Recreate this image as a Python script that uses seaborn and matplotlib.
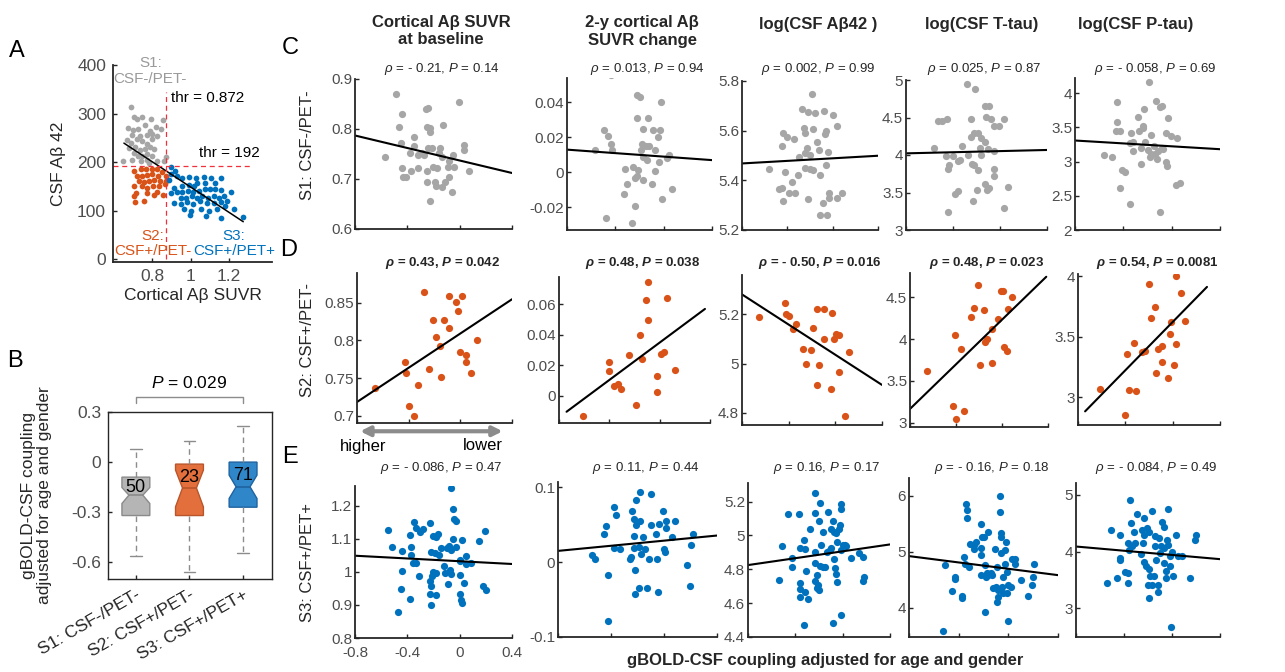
import numpy as np
import seaborn as sns
import matplotlib.pyplot as plt

# ---------------- data: panel A ----------------
a_s1_x = [0.687, 0.704, 0.722, 0.748, 0.795, 0.856, 0.673, 0.70, 0.725, 0.76, 0.786, 0.817, 0.843,
          0.696, 0.736, 0.77, 0.80, 0.666, 0.69, 0.718, 0.748, 0.774, 0.80, 0.826, 0.678, 0.708,
          0.736, 0.76, 0.788, 0.704, 0.725, 0.748, 0.774, 0.80, 0.649, 0.696, 0.739, 0.77, 0.826,
          0.87, 0.86, 0.81, 0.783]
a_s1_y = [313, 293, 289, 292, 289, 286, 270, 267, 269, 277, 265, 272, 269, 256, 254, 256, 258,
          246, 239, 248, 243, 238, 248, 254, 229, 231, 224, 226, 231, 219, 212, 213, 217, 213,
          203, 204, 202, 205, 202, 211, 202, 226, 198]
a_s2_x = [0.704, 0.739, 0.765, 0.80, 0.826, 0.852, 0.722, 0.748, 0.774, 0.80, 0.83, 0.87, 0.731,
          0.757, 0.783, 0.809, 0.838, 0.873, 0.704, 0.748, 0.774, 0.805, 0.835, 0.864, 0.713,
          0.77, 0.826, 0.704, 0.757, 0.809, 0.857, 0.708]
a_s2_y = [181, 185, 186, 186, 185, 179, 172, 171, 174, 176, 171, 171, 161, 159, 161, 164, 161,
          161, 150, 150, 147, 150, 150, 154, 137, 137, 138, 130, 120, 133, 133, 118]
a_s3_x = [0.899, 0.896, 0.92, 0.93, 0.957, 0.991, 1.026, 1.07, 1.104, 1.16, 1.13, 1.073, 1.035,
          0.991, 0.957, 0.913, 0.896, 0.927, 0.957, 0.986, 1.014, 1.043, 1.073, 1.10, 1.13,
          1.157, 1.209, 0.948, 0.974, 1.009, 1.035, 1.061, 1.09, 1.122, 1.148, 1.174, 0.913,
          0.948, 0.983, 1.014, 1.049, 1.087, 1.122, 1.157, 1.191, 0.965, 1.0, 1.052, 1.096,
          1.139, 1.178, 0.997, 1.078, 1.16, 1.275, 1.226, 1.017, 0.887]
a_s3_y = [190, 176, 181, 171, 168, 170, 168, 170, 168, 168, 157, 157, 156, 152, 150, 147, 137,
          138, 138, 140, 138, 140, 145, 144, 145, 142, 138, 126, 126, 130, 126, 130, 126, 130,
          126, 130, 116, 113, 118, 113, 120, 115, 116, 118, 120, 103, 99, 103, 99, 103, 109,
          90, 89, 85, 87, 103, 150, 164]
a_fit = [(0.652, 239), (1.275, 77)]
thr_suvr, thr_csf = 0.872, 192

# ---------------- data: panel B (box statistics) ----------------
groups = ['S1: CSF-/PET-', 'S2: CSF+/PET-', 'S3: CSF+/PET+']
group_n = [50, 23, 71]
box_med = [-0.198, -0.155, -0.148]
box_q1 = [-0.32, -0.32, -0.27]
box_q3 = [-0.09, -0.012, 0.0]
box_lo = [-0.56, -0.66, -0.545]
box_hi = [0.078, 0.125, 0.215]
box_cilo = [-0.248, -0.268, -0.218]
box_cihi = [-0.152, -0.048, -0.078]

# ---------------- data: panels C-E ----------------
c1_x = [-0.49, -0.44, -0.46, -0.45, -0.57, -0.44, -0.43, -0.41, -0.37, -0.35, -0.35, -0.38, -0.32,
        -0.29, -0.27, -0.26, -0.245, -0.25, -0.23, -0.225, -0.24, -0.21, -0.20, -0.17, -0.15,
        -0.13, -0.25, -0.25, -0.19, -0.18, -0.135, -0.115, -0.23, -0.135, -0.09, -0.08, -0.055,
        -0.05, -0.04, -0.005, 0.03, 0.03, 0.07, -0.08, -0.16, -0.32]
c1_y = [0.871, 0.83, 0.804, 0.772, 0.745, 0.722, 0.705, 0.705, 0.716, 0.784, 0.767, 0.753, 0.722,
        0.752, 0.748, 0.84, 0.843, 0.804, 0.802, 0.795, 0.763, 0.762, 0.725, 0.722, 0.762, 0.808,
        0.717, 0.695, 0.694, 0.687, 0.685, 0.695, 0.657, 0.745, 0.724, 0.704, 0.675, 0.748,
        0.725, 0.854, 0.768, 0.758, 0.717, 0.737, 0.752, 0.748]
c2_x = [-0.435, -0.22, -0.20, -0.02, -0.49, -0.46, -0.22, -0.13, -0.17, -0.09, -0.03, -0.05, -0.18,
        -0.15, -0.12, -0.19, -0.07, -0.57, -0.435, -0.43, 0.04, 0.03, -0.04, -0.14, -0.17, -0.25,
        -0.32, -0.21, -0.07, -0.22, -0.24, -0.17, -0.10, -0.30, -0.33, -0.01, 0.07, -0.24, -0.48,
        -0.26]
c2_y = [0.056, 0.044, 0.043, 0.040, 0.024, 0.021, 0.031, 0.031, 0.025, 0.024, 0.024, 0.020, 0.016,
        0.015, 0.015, 0.013, 0.013, 0.013, 0.016, 0.013, 0.010, 0.008, 0.006, 0.007, 0.009, 0.003,
        0.002, 0.0015, 0.001, -0.002, -0.0035, -0.0046, -0.0064, -0.0064, -0.0125, -0.015,
        -0.0095, -0.019, -0.026, -0.029]
c3_x = [-0.18, -0.27, -0.22, -0.16, -0.08, 0.00, 0.04, -0.44, -0.40, -0.34, -0.45, -0.25, -0.24,
        -0.17, -0.06, -0.07, -0.14, -0.23, -0.12, -0.20, -0.30, -0.24, -0.045, -0.56, -0.42, -0.31,
        -0.24, -0.20, -0.17, -0.11, -0.06, -0.36, -0.47, -0.45, -0.385, -0.33, -0.435, -0.22,
        -0.035, -0.03, -0.085, 0.04, 0.085, -0.11, -0.05]
c3_y = [5.746, 5.686, 5.677, 5.670, 5.681, 5.662, 5.619, 5.592, 5.576, 5.565, 5.538, 5.609, 5.592,
        5.605, 5.60, 5.585, 5.556, 5.532, 5.522, 5.502, 5.495, 5.511, 5.515, 5.444, 5.432, 5.421,
        5.448, 5.444, 5.442, 5.421, 5.462, 5.395, 5.364, 5.368, 5.348, 5.348, 5.317, 5.323, 5.350,
        5.328, 5.307, 5.328, 5.35, 5.26, 5.26]
c4_x = [-0.28, -0.21, -0.13, -0.09, -0.53, -0.49, -0.45, -0.25, -0.12, -0.08, -0.055, -0.01, 0.03,
        -0.565, -0.32, -0.22, -0.19, -0.16, -0.13, -0.25, -0.46, -0.40, -0.34, -0.27, -0.17,
        -0.16, -0.10, -0.05, -0.36, -0.43, -0.44, -0.24, -0.22, -0.19, -0.055, -0.05, -0.13,
        -0.095, -0.11, 0.07, -0.20, -0.36, -0.38, -0.23, -0.44, 0.03]
c4_y = [4.94, 4.875, 4.66, 4.65, 4.45, 4.46, 4.48, 4.48, 4.51, 4.475, 4.39, 4.39, 4.48, 4.10, 4.12,
        4.30, 4.30, 4.23, 4.17, 4.235, 3.99, 3.99, 3.94, 4.00, 4.09, 4.00, 4.08, 4.05, 3.92, 3.87,
        3.82, 3.88, 3.87, 3.80, 3.82, 3.72, 3.62, 3.56, 3.53, 3.58, 3.53, 3.52, 3.48, 3.39, 3.24,
        3.29]
c5_x = [-0.185, -0.45, -0.13, -0.08, -0.10, -0.23, -0.28, -0.03, -0.45, -0.24, -0.46, -0.43, -0.34,
        -0.27, -0.24, -0.17, -0.045, -0.005, 0.04, -0.345, -0.32, -0.22, -0.25, -0.32, -0.20,
        -0.17, -0.14, -0.11, -0.08, -0.15, -0.18, -0.12, -0.07, -0.05, -0.04, -0.56, -0.49, -0.41,
        -0.39, -0.25, -0.43, -0.345, -0.095, 0.035, 0.07]
c5_y = [4.156, 3.87, 3.88, 3.81, 3.80, 3.76, 3.65, 3.63, 3.58, 3.52, 3.44, 3.44, 3.415, 3.44, 3.49,
        3.39, 3.42, 3.375, 3.35, 3.27, 3.29, 3.29, 3.20, 3.16, 3.17, 3.11, 3.11, 3.15, 3.20, 3.22,
        3.07, 3.03, 3.18, 3.00, 2.93, 3.10, 3.07, 2.88, 2.85, 2.96, 2.62, 2.38, 2.27, 2.66, 2.68]

d1_x = [-0.657, -0.43, -0.42, -0.40, -0.36, -0.33, -0.28, -0.24, -0.21, -0.19, -0.16, -0.15, -0.13,
        -0.09, -0.09, -0.035, -0.02, 0.00, 0.01, 0.04, 0.04, 0.08, 0.13]
d1_y = [0.737, 0.771, 0.757, 0.713, 0.70, 0.741, 0.865, 0.762, 0.828, 0.804, 0.793, 0.751, 0.828,
        0.859, 0.817, 0.851, 0.839, 0.785, 0.859, 0.781, 0.771, 0.757, 0.801]
d2_x = [-0.61, -0.40, -0.40, -0.36, -0.33, -0.31, -0.245, -0.19, -0.16, -0.14, -0.11, -0.09, -0.09,
        -0.025, -0.02, 0.01, 0.035, 0.06, 0.12]
d2_y = [-0.0135, 0.0218, 0.0163, 0.0066, 0.0077, 0.0042, 0.0269, -0.0062, 0.040, 0.024, 0.063,
        0.075, 0.050, 0.0026, 0.0126, 0.0273, 0.029, 0.064, 0.017]
d3_x = [-0.657, -0.435, -0.42, -0.40, -0.36, -0.34, -0.28, -0.25, -0.21, -0.19, -0.16, -0.16, -0.14,
        -0.10, -0.10, -0.04, -0.03, -0.01, 0.01, 0.03, 0.03, 0.08, 0.12]
d3_y = [5.189, 5.247, 5.20, 5.193, 5.142, 5.162, 5.06, 5.00, 5.054, 5.143, 5.223, 4.911, 4.994,
        5.098, 5.223, 4.895, 5.204, 5.098, 5.121, 5.116, 4.967, 4.786, 5.048]
d4_x = [-0.655, -0.43, -0.40, -0.33, -0.41, -0.36, -0.27, -0.24, -0.21, -0.19, -0.16, -0.15, -0.13,
        -0.09, -0.09, -0.035, -0.01, 0.01, 0.02, 0.04, 0.05, 0.09]
d4_y = [3.62, 3.197, 3.05, 3.146, 4.054, 3.88, 4.263, 4.37, 4.646, 3.69, 4.342, 3.96, 4.007, 4.125,
        3.72, 4.235, 4.58, 4.57, 3.90, 3.857, 4.354, 4.50]
d5_x = [-0.61, -0.405, -0.39, -0.37, -0.33, -0.31, -0.26, -0.23, -0.20, -0.18, -0.15, -0.145, -0.12,
        -0.094, -0.094, -0.04, -0.02, -0.01, 0.01, 0.03, 0.03, 0.07, 0.10]
d5_y = [3.068, 2.856, 3.354, 3.06, 3.45, 3.049, 3.373, 3.38, 3.94, 3.654, 3.75, 3.20, 3.40, 3.42,
        3.294, 3.163, 3.523, 3.619, 3.267, 3.444, 4.0, 3.866, 3.635]

e1_pts = [(-0.55, 1.128), (-0.52, 1.076), (-0.44, 1.064), (-0.44, 1.004), (-0.445, 0.949),
          (-0.47, 0.878), (-0.38, 0.917), (-0.38, 1.111), (-0.35, 1.151), (-0.33, 1.133),
          (-0.30, 1.12), (-0.28, 1.131), (-0.37, 1.076), (-0.37, 1.052), (-0.36, 1.026),
          (-0.33, 1.026), (-0.31, 0.989), (-0.23, 1.148), (-0.22, 1.059), (-0.23, 0.974),
          (-0.22, 0.956), (-0.23, 0.934), (-0.22, 0.90), (-0.21, 0.989), (-0.20, 0.999),
          (-0.20, 1.108), (-0.18, 1.105), (-0.165, 1.115), (-0.19, 1.056), (-0.16, 1.051),
          (-0.14, 1.071), (-0.12, 1.017), (-0.11, 0.996), (-0.09, 0.964), (-0.18, 0.929),
          (-0.18, 0.996), (-0.10, 1.071), (-0.075, 1.006), (-0.07, 0.994), (-0.05, 1.101),
          (-0.065, 1.255), (-0.05, 1.191), (-0.045, 1.16), (-0.025, 1.155), (-0.085, 1.079),
          (-0.065, 1.066), (-0.03, 1.074), (0.005, 1.034), (0.005, 0.992), (0.015, 1.097),
          (0.005, 0.934), (0.01, 0.914), (0.015, 0.906), (0.035, 0.966), (0.045, 1.049),
          (0.05, 1.024), (0.09, 1.026), (0.15, 1.094), (0.19, 1.123), (0.18, 0.957),
          (0.20, 0.944), (0.0, 1.036)]
e2_pts = [(-0.54, 0.009), (-0.52, 0.0036), (-0.455, 0.0377), (-0.44, 0.0486), (-0.375, 0.074),
          (-0.36, 0.063), (-0.42, -0.017), (-0.42, -0.079), (-0.375, 0.019), (-0.33, 0.017),
          (-0.24, 0.068), (-0.23, 0.057), (-0.23, 0.035), (-0.23, 0.019), (-0.26, 0.0045),
          (-0.25, 0.007), (-0.22, -0.010), (-0.22, -0.043), (-0.21, 0.083), (-0.21, 0.05),
          (-0.19, -0.035), (-0.18, 0.094), (-0.18, 0.055), (-0.19, 0.020), (-0.175, 0.011),
          (-0.13, -0.035), (-0.11, 0.0045), (-0.095, 0.091), (-0.095, 0.05), (-0.06, 0.037),
          (-0.05, 0.0045), (-0.045, -0.040), (-0.035, 0.051), (-0.01, 0.068), (0.0, 0.018),
          (0.005, 0.013), (0.015, 0.055), (0.015, 0.045), (0.06, 0.033), (0.085, 0.055),
          (0.175, -0.0036), (0.195, -0.032), (0.205, 0.023), (0.22, 0.038), (-0.155, 0.034),
          (-0.14, 0.017)]
e3_pts = [(-0.54, 4.736), (-0.51, 4.937), (-0.46, 5.125), (-0.43, 4.815), (-0.43, 4.868),
          (-0.37, 5.127), (-0.36, 4.927), (-0.36, 4.72), (-0.36, 4.686), (-0.36, 4.637),
          (-0.33, 4.473), (-0.32, 4.667), (-0.29, 4.627), (-0.33, 4.973), (-0.31, 4.789),
          (-0.32, 4.92), (-0.28, 5.036), (-0.23, 5.253), (-0.23, 5.135), (-0.235, 4.904),
          (-0.23, 4.839), (-0.22, 4.765), (-0.23, 4.732), (-0.22, 4.69), (-0.21, 4.706),
          (-0.20, 5.087), (-0.20, 4.68), (-0.19, 5.19), (-0.18, 4.943), (-0.17, 5.022),
          (-0.17, 4.815), (-0.19, 4.819), (-0.13, 4.904), (-0.12, 5.141), (-0.11, 4.913),
          (-0.10, 5.036), (-0.10, 4.923), (-0.08, 5.087), (-0.07, 5.022), (-0.08, 4.483),
          (-0.07, 4.86), (-0.065, 4.805), (-0.06, 4.771), (-0.06, 5.012), (-0.05, 4.963),
          (-0.05, 4.726), (-0.03, 5.036), (-0.02, 5.062), (-0.01, 5.186), (-0.015, 5.155),
          (-0.01, 4.917), (-0.01, 4.528), (0.0, 4.943), (0.02, 4.943), (0.03, 4.937),
          (0.07, 4.868), (0.14, 4.894), (0.17, 4.87), (0.18, 4.756), (0.17, 4.732),
          (-0.15, 4.815)]
e4_pts = [(-0.53, 3.59), (-0.51, 4.76), (-0.45, 4.30), (-0.43, 4.555), (-0.43, 4.51),
          (-0.37, 4.215), (-0.37, 4.17), (-0.36, 4.91), (-0.35, 4.79), (-0.34, 5.86),
          (-0.33, 5.75), (-0.33, 5.60), (-0.32, 4.73), (-0.31, 5.15), (-0.28, 5.12),
          (-0.28, 5.06), (-0.26, 5.18), (-0.22, 5.49), (-0.22, 5.07), (-0.22, 4.94),
          (-0.22, 4.585), (-0.21, 5.27), (-0.20, 5.27), (-0.19, 3.93), (-0.19, 4.76),
          (-0.18, 4.555), (-0.17, 4.615), (-0.16, 5.36), (-0.16, 4.585), (-0.14, 4.615),
          (-0.13, 4.585), (-0.12, 4.35), (-0.11, 5.06), (-0.10, 4.38), (-0.09, 4.73),
          (-0.08, 4.32), (-0.08, 4.20), (-0.07, 5.99), (-0.07, 5.72), (-0.06, 5.33),
          (-0.06, 5.27), (-0.06, 4.985), (-0.05, 4.38), (-0.04, 4.555), (-0.04, 4.26),
          (-0.03, 5.03), (-0.03, 4.79), (-0.02, 5.18), (-0.01, 4.645), (-0.01, 4.27),
          (0.0, 4.40), (0.0, 3.76), (0.02, 4.38), (0.03, 4.88), (0.05, 4.88), (0.05, 4.79),
          (0.10, 4.50), (0.16, 4.21), (0.19, 4.40), (0.20, 4.555), (0.21, 4.79), (-0.09, 4.11)]
e5_pts = [(-0.54, 3.45), (-0.51, 4.38), (-0.46, 3.53), (-0.43, 4.29), (-0.43, 3.85), (-0.43, 3.88),
          (-0.37, 3.45), (-0.37, 3.62), (-0.37, 4.15), (-0.36, 4.03), (-0.35, 4.91), (-0.34, 4.51),
          (-0.33, 4.09), (-0.32, 4.34), (-0.31, 4.15), (-0.29, 4.66), (-0.26, 3.96), (-0.25, 4.38),
          (-0.23, 4.59), (-0.23, 4.29), (-0.24, 4.15), (-0.23, 3.82), (-0.22, 3.74), (-0.21, 4.42),
          (-0.20, 3.41), (-0.19, 4.35), (-0.19, 3.69), (-0.19, 3.18), (-0.18, 3.56), (-0.17, 4.71),
          (-0.17, 3.41), (-0.15, 3.56), (-0.14, 4.28), (-0.14, 4.09), (-0.13, 3.85), (-0.12, 3.41),
          (-0.12, 3.28), (-0.11, 4.24), (-0.10, 3.97), (-0.08, 4.53), (-0.09, 4.09), (-0.07, 4.44),
          (-0.07, 3.79), (-0.07, 4.06), (-0.05, 3.65), (-0.05, 3.53), (-0.04, 4.21), (-0.03, 4.12),
          (-0.03, 4.75), (-0.02, 3.92), (-0.02, 3.75), (-0.01, 2.66), (0.0, 4.0), (0.01, 3.57),
          (0.03, 4.29), (0.05, 3.92), (0.08, 3.92), (0.15, 3.53), (0.19, 4.21), (0.20, 4.29),
          (-0.39, 3.63)]

# fitted lines: (x0, y0, x1, y1)
fits = [
    [(-0.8, 0.787, 0.4, 0.712), (-0.8, 0.013, 0.4, 0.007), (-0.8, 5.468, 0.4, 5.499),
     (-0.8, 4.022, 0.4, 4.067), (-0.8, 3.307, 0.4, 3.18)],
    [(-0.8, 0.718, 0.4, 0.855), (-0.74, -0.0106, 0.36, 0.057), (-0.8, 5.281, 0.4, 4.913),
     (-0.8, 3.166, 0.385, 4.745), (-0.74, 2.883, 0.29, 3.913)],
    [(-0.8, 1.049, 0.4, 1.024), (-0.8, 0.015, 0.4, 0.0355), (-0.8, 4.825, 0.4, 4.947),
     (-0.8, 4.925, 0.4, 4.585), (-0.8, 4.088, 0.4, 3.865)],
]
stats = [
    ['- 0.21', '0.14'], ['0.013', '0.94'], ['0.002', '0.99'], ['0.025', '0.87'], ['- 0.058', '0.69'],
    ['0.43', '0.042'], ['0.48', '0.038'], ['- 0.50', '0.016'], ['0.48', '0.023'], ['0.54', '0.0081'],
    ['- 0.086', '0.47'], ['0.11', '0.44'], ['0.16', '0.17'], ['- 0.16', '0.18'], ['- 0.084', '0.49'],
]
col_titles = ['Cortical A\u03b2 SUVR\nat baseline', '2-y cortical A\u03b2\nSUVR change',
              'log(CSF A\u03b242 )', 'log(CSF T-tau)', 'log(CSF P-tau)']
ylims = [
    [(0.6, 0.9), (-0.033, 0.054), (5.2, 5.8), (3, 5), (2, 4.22)],
    [(0.69, 0.89), (-0.018, 0.078), (4.75, 5.36), (2.95, 4.79), (2.77, 4.02)],
    [(0.8, 1.26), (-0.1, 0.107), (4.4, 5.31), (3.48, 6.32), (2.49, 5.21)],
]
yticks = [
    [[0.6, 0.7, 0.8, 0.9], [-0.02, 0, 0.02, 0.04], [5.2, 5.4, 5.6, 5.8], [3, 3.5, 4, 4.5, 5],
     [2, 2.5, 3, 3.5, 4]],
    [[0.7, 0.75, 0.8, 0.85], [0, 0.02, 0.04, 0.06], [4.8, 5, 5.2], [3, 3.5, 4, 4.5], [3, 3.5, 4]],
    [[0.8, 0.9, 1, 1.1, 1.2], [-0.1, 0, 0.1], [4.4, 4.6, 4.8, 5, 5.2], [4, 5, 6], [3, 4, 5]],
]
xticks = [-0.8, -0.4, 0, 0.4]

gray, orange, blue = '#a6a6a6', '#d95319', '#0072bd'
row_colors = [gray, orange, blue]

# ---------------- style ----------------
sns.set_theme(style="ticks")
plt.rcParams['font.family'] = ['Liberation Sans', 'DejaVu Sans']
plt.rcParams['mathtext.fontset'] = 'custom'
plt.rcParams['mathtext.rm'] = 'Liberation Sans'
plt.rcParams['mathtext.it'] = 'Liberation Sans:italic'
plt.rcParams['mathtext.bf'] = 'Liberation Sans:bold:italic'
plt.rcParams['axes.unicode_minus'] = False
plt.rcParams['xtick.direction'] = 'in'
plt.rcParams['ytick.direction'] = 'in'

W, H = 1285, 672
fig = plt.figure(figsize=(W / 100, H / 100), dpi=100)
dark = '#262626'
ticklab = '#4d4d4d'


def px_axes(l, t, r, b):
    return fig.add_axes([l / W, 1 - b / H, (r - l) / W, (b - t) / H])


def ftext(x, y, s, **kw):
    fig.text(x / W, 1 - y / H, s, **kw)


def style_axes(ax, size, pad=2):
    for sp in ax.spines.values():
        sp.set_color(dark)
        sp.set_linewidth(1.3)
    ax.tick_params(colors=dark, labelcolor=ticklab, labelsize=size, length=3, width=1, pad=pad)


# ---------------- panel A ----------------
ax = px_axes(113, 65, 272, 262)
for xs, ys, c in [(a_s1_x, a_s1_y, gray), (a_s2_x, a_s2_y, orange), (a_s3_x, a_s3_y, blue)]:
    sns.scatterplot(x=xs, y=ys, ax=ax, color=c, s=17, linewidth=0, legend=False)
ax.plot([a_fit[0][0], a_fit[1][0]], [a_fit[0][1], a_fit[1][1]], color='black', lw=1.1)
ax.plot([thr_suvr, thr_suvr], [0, 345], color='#f0303a', lw=0.9, ls=(0, (4, 3)))
ax.plot([0.595, 1.316], [thr_csf, thr_csf], color='#f0303a', lw=0.9, ls=(0, (4, 3)))
ax.set_xlim(0.595, 1.425)
ax.set_ylim(-6, 400)
ax.set_xticks([0.8, 1, 1.2])
ax.set_xticklabels(['0.8', '1', '1.2'])
ax.set_yticks([0, 100, 200, 300, 400])
sns.despine(ax=ax)
style_axes(ax, 12.5, pad=5)
ax.set_xlabel('Cortical A\u03b2 SUVR', fontsize=12.5, color=dark, labelpad=3)
ax.set_ylabel('CSF A\u03b2 42', fontsize=12.5, color=dark, labelpad=8)
ax.text(0.79, 388, 'S1:\nCSF-/PET-', color='#9a9a9a', fontsize=11, ha='center', va='center',
        linespacing=1.15, clip_on=False)
ax.text(0.896, 332, 'thr = 0.872', color='black', fontsize=11, ha='left', va='center')
ax.text(1.043, 219, 'thr = 192', color='black', fontsize=11, ha='left', va='center')
ax.text(0.805, 32, 'S2:\nCSF+/PET-', color=orange, fontsize=11, ha='center', va='center',
        linespacing=1.15)
ax.text(1.226, 32, 'S3:\nCSF+/PET+', color=blue, fontsize=11, ha='center', va='center',
        linespacing=1.15)

# ---------------- panel B ----------------
ax = px_axes(108, 412, 272, 579)
bstats = []
for i in range(3):
    bstats.append(dict(med=box_med[i], q1=box_q1[i], q3=box_q3[i], whislo=box_lo[i],
                       whishi=box_hi[i], cilo=box_cilo[i], cihi=box_cihi[i], fliers=[]))
faces = ['#b5b5b5', '#e3703c', '#2f86c8']
edges = ['#8a8a8a', '#b9552a', '#1f63a0']
art = ax.bxp(bstats, positions=[1, 2, 3], widths=0.52, shownotches=True, patch_artist=True,
             capwidths=0.22, showfliers=False,
             whiskerprops=dict(color='#8c8c8c', ls=(0, (4, 3)), lw=1),
             capprops=dict(color='#8c8c8c', lw=1))
for i in range(3):
    art['boxes'][i].set_facecolor(faces[i])
    art['boxes'][i].set_edgecolor(edges[i])
    art['medians'][i].set_color(edges[i])
    art['medians'][i].set_linewidth(1.2)
for i, (n, yy) in enumerate(zip(group_n, [-0.15, -0.09, -0.08])):
    ax.text(i + 1, yy, str(n), ha='center', va='center', fontsize=13, color='black')
ax.set_xlim(0.48, 3.54)
ax.set_ylim(-0.70, 0.30)
ax.set_yticks([-0.6, -0.3, 0, 0.3])
ax.set_yticklabels(['-0.6', '-0.3', '0', '0.3'])
ax.set_xticks([1, 2, 3])
ax.set_xticklabels(groups, rotation=30, ha='right', rotation_mode='anchor')
style_axes(ax, 12.5, pad=5)
for sp in ax.spines.values():
    sp.set_linewidth(1.0)
ax.tick_params(axis='x', labelsize=12.5, labelcolor=dark, pad=6)
ax.set_ylabel('gBOLD-CSF coupling\nadjusted for age and gender', fontsize=12.5, color=dark,
              labelpad=14, linespacing=1.1)
ax.plot([1, 1, 3, 3], [0.354, 0.39, 0.39, 0.354], color='#8c8c8c', lw=1, clip_on=False)
ax.text(2, 0.474, '$P$ = 0.029', ha='center', va='center', fontsize=12.5, color='black')

# ---------------- panels C-E ----------------
boxes = [
    [(355, 79, 512, 229), (567, 78, 712, 230), (742, 81, 878, 230), (906, 80, 1047, 230),
     (1075, 78, 1220, 230)],
    [(357, 273, 512, 423), (559, 277, 710, 423), (742, 275, 882, 425), (910, 273, 1048, 427),
     (1078, 274, 1220, 425)],
    [(355, 486, 512, 638), (558, 482, 717, 637), (748, 483, 890, 637), (909, 478, 1058, 637),
     (1076, 483, 1220, 637)],
]
panel_data = [
    [(c1_x, c1_y), (c2_x, c2_y), (c3_x, c3_y), (c4_x, c4_y), (c5_x, c5_y)],
    [(d1_x, d1_y), (d2_x, d2_y), (d3_x, d3_y), (d4_x, d4_y), (d5_x, d5_y)],
    [tuple(map(list, zip(*p))) for p in (e1_pts, e2_pts, e3_pts, e4_pts, e5_pts)],
]
stat_y = [69, 263, 468]
axes_grid = []
for r in range(3):
    row_axes = []
    for c in range(5):
        l, t, rr, b = boxes[r][c]
        ax = px_axes(l, t, rr, b)
        xs, ys = panel_data[r][c]
        sns.scatterplot(x=xs, y=ys, ax=ax, color=row_colors[r], s=27, linewidth=0, legend=False)
        x0, y0, x1, y1 = fits[r][c]
        ax.plot([x0, x1], [y0, y1], color='black', lw=1.5)
        ax.set_xlim(-0.8, 0.4)
        ax.set_ylim(*ylims[r][c])
        ax.set_xticks(xticks)
        if r == 2 and c == 0:
            ax.set_xticklabels(['-0.8', '-0.4', '0', '0.4'])
        else:
            ax.set_xticklabels([])
        ax.set_yticks(yticks[r][c])
        ax.set_yticklabels([f'{v:g}' for v in yticks[r][c]])
        sns.despine(ax=ax)
        style_axes(ax, 11)
        ax.tick_params(axis='x', pad=6)
        rho, p = stats[r * 5 + c]
        if r == 1:
            s = r'$\mathbf{\rho}$ = ' + rho + r', $\mathbf{P}$ = ' + p
            ftext((l + rr) / 2 + 8, stat_y[r], s, ha='center', va='center', fontsize=9.5,
                  fontweight='bold')
        else:
            s = r'$\rho$ = ' + rho + r', $P$ = ' + p
            ftext((l + rr) / 2 + 8, stat_y[r], s, ha='center', va='center', fontsize=9.5)
        row_axes.append(ax)
    axes_grid.append(row_axes)

# column titles
title_pos = [(441, 31), (642, 31), (818, 25), (982, 25), (1136, 25)]
for (tx, ty), s in zip(title_pos, col_titles):
    ftext(tx, ty, s, ha='center', va='center', fontsize=12, fontweight='bold', linespacing=1.25)

# row labels
for y, s in zip([145, 340, 563], groups):
    ftext(307, y, s, rotation=90, ha='center', va='center', fontsize=12, color=dark)

# higher / lower arrow under D1
axes_grid[1][0].annotate('', xy=(0.94, -0.055), xytext=(0.02, -0.055), xycoords='axes fraction',
                         arrowprops=dict(arrowstyle='<|-|>', color='#8c8c8c', lw=3,
                                         mutation_scale=14, shrinkA=0, shrinkB=0),
                         annotation_clip=False)
ftext(363, 446, 'higher', ha='center', va='center', fontsize=12, color='black')
ftext(483, 446, 'lower', ha='center', va='center', fontsize=12, color='black')

ftext(825, 660, 'gBOLD-CSF coupling adjusted for age and gender', ha='center', va='center',
      fontsize=12, fontweight='bold')

# panel letters
for x, y, s in [(17, 51, 'A'), (15, 361, 'B'), (290, 48, 'C'), (289, 250, 'D'), (290, 457, 'E')]:
    ftext(x, y, s, ha='center', va='center', fontsize=17, color='black')

fig.savefig('out.png', dpi=100)
